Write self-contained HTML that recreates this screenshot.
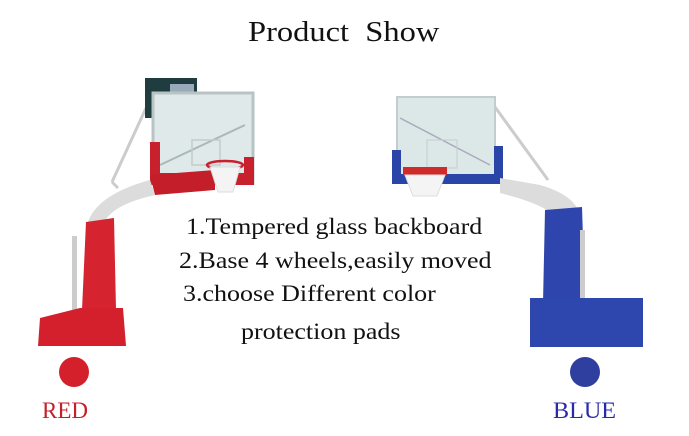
<!DOCTYPE html>
<html><head><style>
body{margin:0;width:689px;height:436px;background:#fff;overflow:hidden;position:relative;font-family:"Liberation Serif",serif}
.t{position:absolute;white-space:nowrap;color:#111;transform-origin:0 0;transform:scaleX(1.13)}
</style></head><body>
<svg width="689" height="436" style="position:absolute;left:0;top:0">
<!-- left hoop -->
<line x1="112" y1="182" x2="146" y2="108" stroke="#ccc" stroke-width="3"/>
<line x1="112" y1="182" x2="118" y2="188" stroke="#ccc" stroke-width="3"/>
<rect x="145" y="78" width="52" height="40" fill="#1f3d3e"/>
<rect x="170" y="84" width="24" height="10" fill="#9ab"/>
<rect x="153" y="93" width="100" height="90" fill="#dfe9e9" stroke="#b8c4c4" stroke-width="3"/>
<line x1="160" y1="165" x2="245" y2="125" stroke="#aab8b8" stroke-width="2"/>
<rect x="192" y="140" width="28" height="25" fill="none" stroke="#c3cccc" stroke-width="1.5"/>
<rect x="150" y="142" width="10" height="40" fill="#c8202c"/>
<rect x="244" y="157" width="10" height="26" fill="#c8202c"/>
<rect x="150" y="173" width="104" height="12" fill="#c8202c"/>
<polygon points="150,175 215,170 215,190 155,195" fill="#c41e2b"/>
<ellipse cx="225" cy="165" rx="18" ry="4" fill="none" stroke="#c8202c" stroke-width="2.5"/>
<polygon points="210,167 240,167 233,192 218,192" fill="#f4f4f4" stroke="#ddd"/>
<path d="M87 225 Q95 195 150 180 L155 195 Q110 205 103 225 Z" fill="#dcdcdc"/>
<polygon points="86,222 114,218 116,310 82,310" fill="#d5232f"/>
<rect x="72" y="236" width="5" height="80" fill="#ccc"/>
<polygon points="40,318 80,308 123,308 126,346 38,346" fill="#d3202c"/>
<circle cx="74" cy="372" r="15" fill="#d4202a"/>
<!-- right hoop -->
<line x1="495" y1="107" x2="548" y2="180" stroke="#ccc" stroke-width="3"/>
<rect x="397" y="97" width="98" height="80" fill="#dce8e8" stroke="#c4cccc" stroke-width="2"/>
<line x1="400" y1="118" x2="490" y2="165" stroke="#aab" stroke-width="1.5"/>
<rect x="427" y="140" width="30" height="28" fill="none" stroke="#c3cccc"/>
<rect x="392" y="150" width="9" height="33" fill="#2b44a8"/>
<rect x="494" y="146" width="9" height="35" fill="#2b44a8"/>
<rect x="392" y="174" width="111" height="10" fill="#2b44a8"/>
<rect x="403" y="167" width="44" height="8" fill="#d02b2b"/>
<polygon points="405,175 445,175 437,196 413,196" fill="#f4f4f4" stroke="#ddd"/>
<path d="M500 178 L540 185 Q575 195 580 215 L555 218 Q548 205 500 193 Z" fill="#dcdcdc"/>
<polygon points="545,210 582,207 585,303 543,303" fill="#2d45ac"/>
<rect x="580" y="230" width="5" height="70" fill="#ccc"/>
<rect x="530" y="298" width="113" height="49" fill="#2e47ae"/>
<circle cx="585" cy="372" r="15" fill="#2e3fa0"/>
</svg>
<div class="t" style="left:248px;top:17px;font-size:28px;transform:scaleX(1.16)">Product&nbsp; Show</div>
<div class="t" style="left:186px;top:214px;font-size:23px">1.Tempered glass backboard</div>
<div class="t" style="left:179px;top:248px;font-size:23px">2.Base 4 wheels,easily moved</div>
<div class="t" style="left:183px;top:281px;font-size:23px">3.choose Different color</div>
<div class="t" style="left:241px;top:319px;font-size:23px">protection pads</div>
<div class="t" style="left:42px;top:398px;font-size:23px;color:#c4202a;transform:none">RED</div>
<div class="t" style="left:553px;top:398px;font-size:23px;color:#2a2aa8;transform:scaleX(1.05)">BLUE</div>
</body></html>
